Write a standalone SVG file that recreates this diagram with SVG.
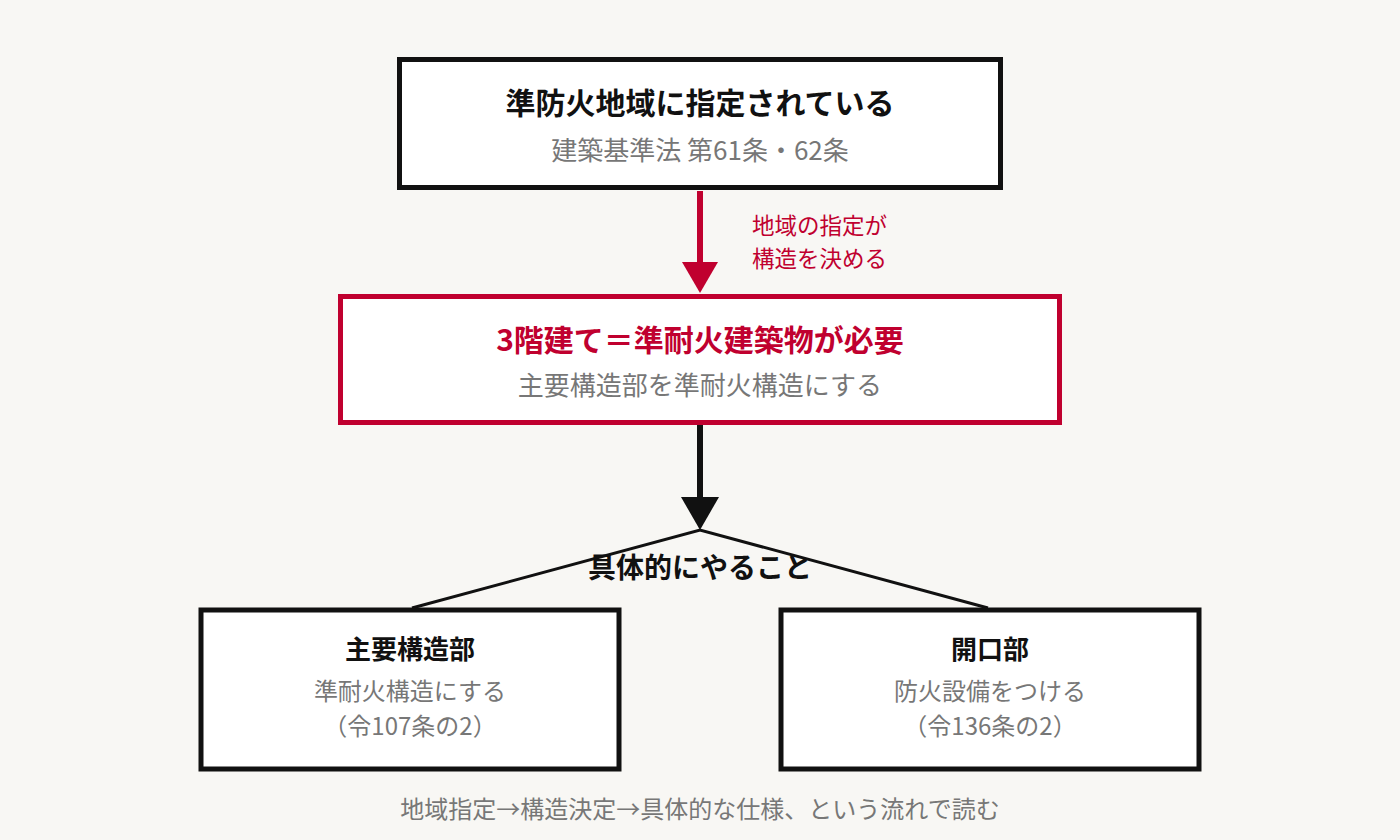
<svg xmlns="http://www.w3.org/2000/svg" width="1400" height="840" viewBox="0 0 1400 840">
<style>
text{font-family:"Noto Sans CJK JP","Noto Sans",sans-serif;text-anchor:middle}
.t{font-weight:700;fill:#111}
.s{fill:#777}
.box{fill:#fff;stroke:#111;stroke-width:5}
.red{stroke:#c0002f}
</style>
<rect width="1400" height="840" fill="#f8f7f4"/>
<g id="connectors">
<line x1="700" y1="191" x2="700" y2="262" stroke="#c0002f" stroke-width="6"/>
<path d="M682,262 L718,262 L700,293 Z" fill="#c0002f"/>
<text x="752" y="234" font-size="22.5" fill="#c0002f" style="text-anchor:start">地域の指定が</text>
<text x="752" y="267" font-size="22.5" fill="#c0002f" style="text-anchor:start">構造を決める</text>
<line x1="700" y1="424" x2="700" y2="498" stroke="#111" stroke-width="6"/>
<path d="M681,497 L719,497 L700,530 Z" fill="#111"/>
<polyline points="412,608 700,530 988,608" fill="none" stroke="#111" stroke-width="3"/>
<text class="t" x="700" y="578" font-size="28">具体的にやること</text>
</g>
<g id="n1">
<rect class="box" x="399.5" y="59.5" width="601" height="128"/>
<text class="t" x="700" y="114" font-size="30">準防火地域に指定されている</text>
<text class="s" x="700" y="160" font-size="26">建築基準法 第61条・62条</text>
</g>
<g id="n2">
<rect class="box red" x="340.5" y="296.5" width="719" height="126"/>
<text class="t" x="700" y="351" font-size="30" style="fill:#c0002f">3階建て＝準耐火建築物が必要</text>
<text class="s" x="700" y="395" font-size="26">主要構造部を準耐火構造にする</text>
</g>
<g id="n3">
<rect class="box" x="201" y="610" width="418" height="159"/>
<text class="t" x="410" y="659" font-size="26">主要構造部</text>
<text class="s" x="410" y="700" font-size="24">準耐火構造にする</text>
<text class="s" x="410" y="735" font-size="24">（令107条の2）</text>
</g>
<g id="n4">
<rect class="box" x="781" y="610" width="418" height="159"/>
<text class="t" x="990" y="659" font-size="26">開口部</text>
<text class="s" x="990" y="700" font-size="24">防火設備をつける</text>
<text class="s" x="990" y="735" font-size="24">（令136条の2）</text>
</g>
<text class="s" x="700" y="818" font-size="24">地域指定→構造決定→具体的な仕様、という流れで読む</text>
</svg>
